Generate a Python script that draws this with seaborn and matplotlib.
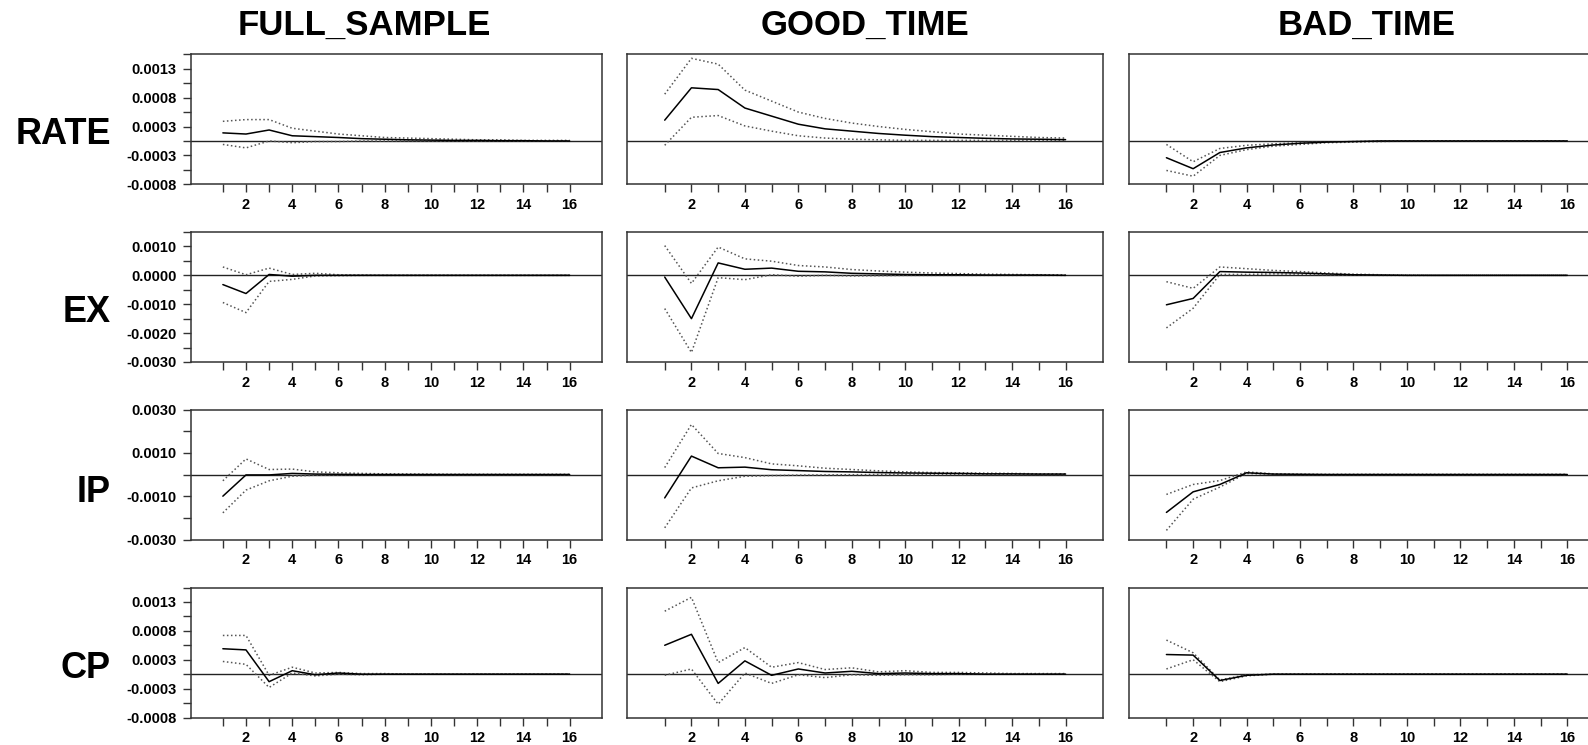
import matplotlib
matplotlib.use("Agg")
import matplotlib.pyplot as plt
import seaborn as sns
import numpy as np
import pandas as pd

sns.set_style("white")
plt.rcParams['font.family'] = ['Liberation Sans', 'DejaVu Sans']
plt.rcParams['font.weight'] = 'bold'
plt.rcParams['text.color'] = 'black'
plt.rcParams['xtick.color'] = 'black'
plt.rcParams['ytick.color'] = 'black'

# impulse responses: response, upper band, lower band
periods = list(range(1, 17))
samples = ['FULL_SAMPLE', 'GOOD_TIME', 'BAD_TIME']
variables = ['RATE', 'EX', 'IP', 'CP']

rate_full_resp = [0.00014, 0.00012, 0.00019, 0.00009, 0.000075, 0.00006, 0.00004, 0.00003, 0.00002, 0.000015, 0.00001, 0.00001, 0.000005, 0.000005, 0.0, 0.0]
rate_full_up = [0.00034, 0.00037, 0.00037, 0.00022, 0.00017, 0.00012, 0.00009, 0.00006, 0.00005, 0.00004, 0.00003, 0.00002, 0.00002, 0.00001, 0.00001, 0.00001]
rate_full_lo = [-0.00006, -0.00012, 0.0, -0.00003, -0.00001, -0.00001, 0.0, 0.0, 0.0, 0.0, 0.0, 0.0, 0.0, 0.0, 0.0, 0.0]

rate_good_resp = [0.00036, 0.00092, 0.00089, 0.00057, 0.00043, 0.00029, 0.00021, 0.00017, 0.00013, 0.0001, 0.000075, 0.00006, 0.000046, 0.000035, 0.00003, 0.000023]
rate_good_up = [0.00081, 0.00143, 0.00133, 0.00088, 0.00069, 0.0005, 0.00039, 0.00031, 0.00025, 0.0002, 0.00016, 0.00012, 0.0001, 0.00008, 0.00006, 0.00005]
rate_good_lo = [-0.000075, 0.00041, 0.00044, 0.00026, 0.00017, 0.00009, 0.00005, 0.00003, 0.00002, 0.00001, 0.00001, 0.00001, 0.00001, 0.00001, 0.00001, 0.00001]

rate_bad_resp = [-0.00029, -0.00048, -0.0002, -0.00012, -0.00007, -0.00004, -0.00002, -0.00001, 0.0, 0.0, 0.0, 0.0, 0.0, 0.0, 0.0, 0.0]
rate_bad_up = [-0.00006, -0.00036, -0.00013, -0.000075, -0.00005, -0.00003, -0.00002, -0.00001, 0.0, 0.0, 0.0, 0.0, 0.0, 0.0, 0.0, 0.0]
rate_bad_lo = [-0.00051, -0.00061, -0.00025, -0.00015, -0.00009, -0.00006, -0.00003, -0.00002, -0.00001, 0.0, 0.0, 0.0, 0.0, 0.0, 0.0, 0.0]

ex_full_resp = [-0.00032, -0.00063, 0.00003, -0.00003, 0.0, 0.0, 0.0, 0.0, 0.0, 0.0, 0.0, 0.0, 0.0, 0.0, 0.0, 0.0]
ex_full_up = [0.00029, 0.00002, 0.00025, 0.00003, 0.00007, 0.00002, 0.00001, 0.0, 0.0, 0.0, 0.0, 0.0, 0.0, 0.0, 0.0, 0.0]
ex_full_lo = [-0.00094, -0.00129, -0.00021, -0.00014, -0.00002, -0.00001, 0.0, 0.0, 0.0, 0.0, 0.0, 0.0, 0.0, 0.0, 0.0, 0.0]

ex_good_resp = [-0.00006, -0.0015, 0.00043, 0.00021, 0.00025, 0.00014, 0.00012, 0.00007, 0.00005, 0.00003, 0.00002, 0.00002, 0.00001, 0.00001, 0.00001, 0.0]
ex_good_up = [0.00103, -0.00028, 0.00098, 0.00057, 0.00049, 0.00034, 0.00029, 0.0002, 0.00015, 0.00011, 0.00008, 0.00006, 0.00004, 0.00003, 0.00002, 0.00002]
ex_good_lo = [-0.00115, -0.00267, -0.00008, -0.00015, 0.00002, -0.00003, 0.0, -0.00002, -0.00001, 0.0, 0.0, 0.0, 0.0, 0.0, 0.0, 0.0]

ex_bad_resp = [-0.00102, -0.0008, 0.00013, 0.00011, 0.0001, 0.00008, 0.00005, 0.00002, 0.00001, 0.0, 0.0, 0.0, 0.0, 0.0, 0.0, 0.0]
ex_bad_up = [-0.00022, -0.00045, 0.00029, 0.00023, 0.00017, 0.00013, 0.00008, 0.00004, 0.00002, 0.00001, 0.0, 0.0, 0.0, 0.0, 0.0, 0.0]
ex_bad_lo = [-0.00182, -0.00114, 0.00003, 0.00003, 0.00005, 0.00004, 0.00002, 0.00001, 0.0, 0.0, 0.0, 0.0, 0.0, 0.0, 0.0, 0.0]

ip_full_resp = [-0.001, -0.00002, -0.00002, 0.00005, 0.00002, 0.00001, 0.0, 0.0, 0.0, 0.0, 0.0, 0.0, 0.0, 0.0, 0.0, 0.0]
ip_full_up = [-0.00029, 0.00072, 0.00023, 0.00025, 0.00012, 0.00008, 0.00005, 0.00003, 0.00002, 0.00001, 0.0, 0.0, 0.0, 0.0, 0.0, 0.0]
ip_full_lo = [-0.00177, -0.00072, -0.00029, -0.00008, -0.00003, -0.00002, -0.00001, 0.0, 0.0, 0.0, 0.0, 0.0, 0.0, 0.0, 0.0, 0.0]

ip_good_resp = [-0.00108, 0.00085, 0.00031, 0.00034, 0.00022, 0.00018, 0.00014, 0.00012, 0.00009, 0.00007, 0.00006, 0.00005, 0.00003, 0.00003, 0.00002, 0.00002]
ip_good_up = [0.00032, 0.00231, 0.00097, 0.00078, 0.00049, 0.0004, 0.00029, 0.00023, 0.00017, 0.00012, 0.00009, 0.00008, 0.00006, 0.00005, 0.00003, 0.00003]
ip_good_lo = [-0.00246, -0.00062, -0.00029, -0.00008, -0.00005, -0.00003, -0.00002, -0.00001, 0.0, 0.0, 0.0, 0.0, 0.0, 0.0, 0.0, 0.0]

ip_bad_resp = [-0.00175, -0.0008, -0.00046, 0.00008, 0.00002, 0.00001, 0.0, 0.0, 0.0, 0.0, 0.0, 0.0, 0.0, 0.0, 0.0, 0.0]
ip_bad_up = [-0.00092, -0.00046, -0.00028, 0.00012, 0.00003, 0.00001, 0.0, 0.0, 0.0, 0.0, 0.0, 0.0, 0.0, 0.0, 0.0, 0.0]
ip_bad_lo = [-0.00258, -0.00114, -0.00058, 0.00005, 0.00001, 0.0, 0.0, 0.0, 0.0, 0.0, 0.0, 0.0, 0.0, 0.0, 0.0, 0.0]

cp_full_resp = [0.00044, 0.00042, -0.00013, 0.00006, -0.00001, 0.00002, 0.0, 0.0, 0.0, 0.0, 0.0, 0.0, 0.0, 0.0, 0.0, 0.0]
cp_full_up = [0.00067, 0.00067, -0.00002, 0.00012, 0.00002, 0.00003, 0.00001, 0.00001, 0.0, 0.0, 0.0, 0.0, 0.0, 0.0, 0.0, 0.0]
cp_full_lo = [0.00022, 0.00017, -0.00023, 0.00002, -0.00003, 0.0, -0.00001, 0.0, 0.0, 0.0, 0.0, 0.0, 0.0, 0.0, 0.0, 0.0]

cp_good_resp = [0.0005, 0.00069, -0.00016, 0.00023, -0.00002, 0.00009, 0.00002, 0.00005, 0.00001, 0.00002, 0.00001, 0.00001, 0.0, 0.0, 0.0, 0.0]
cp_good_up = [0.00109, 0.00133, 0.0002, 0.00046, 0.00012, 0.0002, 0.00008, 0.00011, 0.00004, 0.00006, 0.00003, 0.00003, 0.00002, 0.00001, 0.00001, 0.00001]
cp_good_lo = [-0.00002, 0.00009, -0.00052, 0.00002, -0.00016, -0.00001, -0.00006, -0.00001, -0.00002, -0.00001, -0.00001, 0.0, 0.0, 0.0, 0.0, 0.0]

cp_bad_resp = [0.00034, 0.00033, -0.00011, -0.00002, 0.0, 0.0, 0.0, 0.0, 0.0, 0.0, 0.0, 0.0, 0.0, 0.0, 0.0, 0.0]
cp_bad_up = [0.00059, 0.00037, -0.0001, -0.00001, 0.0, 0.0, 0.0, 0.0, 0.0, 0.0, 0.0, 0.0, 0.0, 0.0, 0.0, 0.0]
cp_bad_lo = [0.00009, 0.00025, -0.00013, -0.00003, 0.0, 0.0, 0.0, 0.0, 0.0, 0.0, 0.0, 0.0, 0.0, 0.0, 0.0, 0.0]

# y-axis ticks per variable: (limits, major ticks, labels, minor ticks)
y_rate_ticks = [-0.00075, -0.00025, 0.00025, 0.00075, 0.00125]
y_rate_labels = ['-0.0008', '-0.0003', '0.0003', '0.0008', '0.0013']
y_ex_ticks = [-0.003, -0.002, -0.001, 0.0, 0.001]
y_ex_labels = ['-0.0030', '-0.0020', '-0.0010', '0.0000', '0.0010']
y_ip_ticks = [-0.003, -0.001, 0.001, 0.003]
y_ip_labels = ['-0.0030', '-0.0010', '0.0010', '0.0030']

yaxis_spec = {
    'RATE': ((-0.00075, 0.0015), y_rate_ticks, y_rate_labels, [-0.0005, 0.0, 0.0005, 0.001, 0.0015]),
    'EX': ((-0.003, 0.0015), y_ex_ticks, y_ex_labels, [-0.0025, -0.0015, -0.0005, 0.0005, 0.0015]),
    'IP': ((-0.003, 0.003), y_ip_ticks, y_ip_labels, [-0.002, 0.0, 0.002]),
    'CP': ((-0.00075, 0.0015), y_rate_ticks, y_rate_labels, [-0.0005, 0.0, 0.0005, 0.001, 0.0015]),
}

g = globals()
rows = []
for var in variables:
    for smp in samples:
        key = var.lower() + '_' + smp.split('_')[0].lower()
        for part, name in [('resp', 'response'), ('up', 'upper'), ('lo', 'lower')]:
            for p, v in zip(periods, g[key + '_' + part]):
                rows.append({'variable': var, 'sample': smp, 'series': name,
                             'period': p, 'value': v})
df = pd.DataFrame(rows)

# layout in pixels
W, H = 1588, 745
fig = plt.figure(figsize=(W / 100, H / 100), dpi=100)
col_left = [190.5, 627.3, 1129]
col_width = [411.5, 475.7, 475.7]
row_top = [54.3, 232, 409.5, 587.5]
row_h = 130

title_x = [364, 865, 1367]
label_y = [135, 313, 492, 668]

for i, var in enumerate(variables):
    for j, smp in enumerate(samples):
        ax = fig.add_axes([col_left[j] / W, 1 - (row_top[i] + row_h) / H,
                           col_width[j] / W, row_h / H])
        sub = df[(df['variable'] == var) & (df['sample'] == smp)]
        ax.axhline(0, color='#222222', linewidth=1.0, zorder=1)
        for name, ls, col, lw in [('upper', ':', '#555555', 1.1),
                                  ('lower', ':', '#555555', 1.1),
                                  ('response', '-', 'black', 1.1)]:
            part = sub[sub['series'] == name]
            sns.lineplot(data=part, x='period', y='value', ax=ax, color=col,
                         linestyle=ls, linewidth=lw, zorder=2)
        ax.set_xlim(-0.4, 17.4)
        lim, ticks, labels, minors = yaxis_spec[var]
        ax.set_ylim(*lim)
        ax.set_xticks([2, 4, 6, 8, 10, 12, 14, 16])
        ax.set_xticks([1, 3, 5, 7, 9, 11, 13, 15], minor=True)
        ax.tick_params(axis='x', which='both', direction='out', length=5.5,
                       width=1, color='#333333', labelsize=10.5, pad=4.5, bottom=True)
        if j == 0:
            ax.set_yticks(ticks)
            ax.set_yticklabels(labels)
            ax.set_yticks(minors, minor=True)
            ax.tick_params(axis='y', which='both', direction='out', length=5.5,
                           width=1, color='#333333', labelsize=10.5, pad=4.5, left=True)
        else:
            ax.set_yticks([])
        for lab in ax.get_xticklabels() + ax.get_yticklabels():
            lab.set_fontweight('bold')
            lab.set_color('black')
        ax.set_xlabel('')
        ax.set_ylabel('')
        for sp in ax.spines.values():
            sp.set_color('#333333')
            sp.set_linewidth(1.1)

for j, smp in enumerate(samples):
    fig.text(title_x[j] / W, 1 - 25 / H, smp, ha='center', va='center',
             fontsize=25, fontweight='bold', color='black')
for i, var in enumerate(variables):
    fig.text(111 / W, 1 - label_y[i] / H, var, ha='right', va='center',
             fontsize=26, fontweight='bold', color='black')

fig.savefig('out.png', dpi=100)
